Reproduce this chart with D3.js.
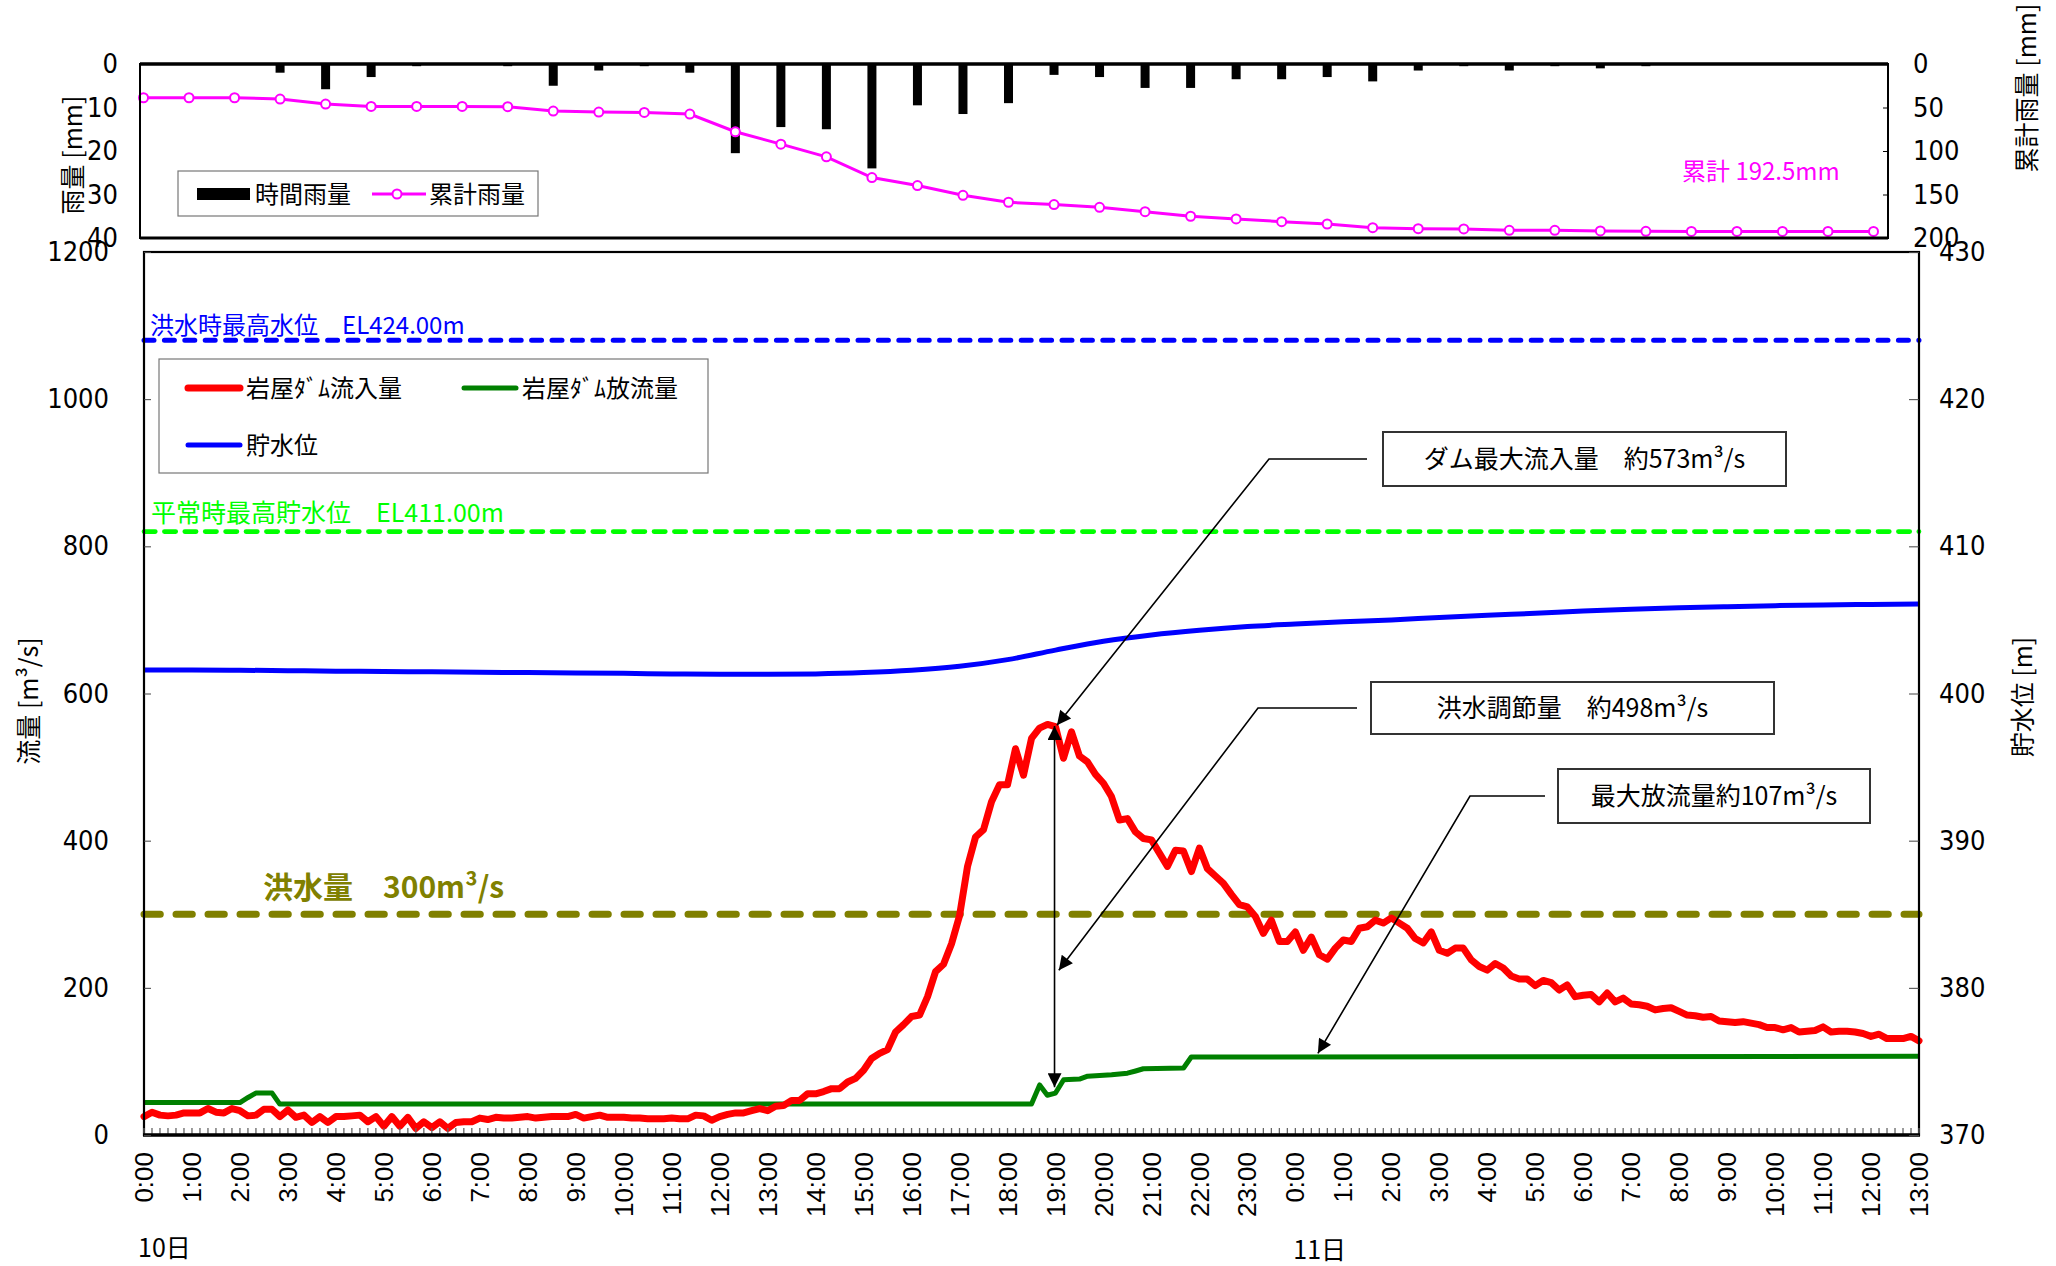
<!DOCTYPE html>
<html>
<head>
<meta charset="utf-8">
<script src="https://cdn.jsdelivr.net/npm/d3@7"></script>
<style>
  body { margin: 0; background: #fff; }
</style>
</head>
<body>
<svg id="chart" width="2056" height="1266"></svg>
<script>
// hourly rain [mm] and cumulative rain [mm], one value per hour from 10日 0:00
const rainHourly = [0, 0, 0, 2.0, 5.8, 3.0, 0.5, 0, 0.5, 5.0, 1.5, 0.5, 2.0,
  20.5, 14.5, 15.0, 24.0, 9.5, 11.5, 9.0, 2.5, 3.0, 5.5, 5.5, 3.5, 3.5, 3.0, 4.0,
  1.5, 0.5, 1.5, 0.5, 1.0, 0.5, 0, 0, 0, 0, 0]
const rainCum = [38.8, 38.8, 38.8, 40.3, 46.1, 48.8, 48.8, 48.8, 49.1, 54.1, 55.3, 55.7, 57.6,
  77.9, 92.1, 106.7, 130.5, 139.7, 150.9, 158.9, 161.6, 164.7, 169.7, 175.0, 178.1, 181.2,
  183.9, 188.1, 189.3, 189.6, 191.2, 191.2, 191.9, 192.3, 192.5, 192.5, 192.5, 192.5, 192.5]

// dam inflow [m3/s], every 10 minutes from 10日 0:00 to 11日 13:00
const inflow = [
  25, 31, 27, 26, 27, 30,
  30, 30, 36, 31, 30, 36,
  33, 26, 27, 35, 35, 25,
  34, 24, 27, 17, 25, 17,
  25, 25, 26, 27, 18, 25,
  12, 25, 12, 24, 9, 18,
  10, 18, 9, 17, 18, 18,
  23, 21, 24, 23, 23, 24,
  25, 23, 24, 25, 25, 25,
  28, 23, 25, 27, 24, 24,
  24, 23, 23, 22, 22, 22,
  23, 22, 22, 27, 26, 20,
  25, 28, 30, 30, 33, 36,
  33, 39, 40, 47, 47, 56,
  56, 59, 63, 63, 72, 77,
  88, 104, 111, 116, 140, 150,
  161, 163, 188, 222, 232, 260,
  298, 365, 405, 415, 453, 476,
  476, 525, 489, 539, 553, 558,
  555, 512, 548, 515, 507, 490,
  478, 460, 428, 430, 412, 403,
  401, 383, 365, 387, 386, 358,
  390, 362, 352, 342, 327, 313,
  310, 297, 274, 292, 263, 263,
  276, 251, 269, 245, 239, 254,
  265, 263, 281, 283, 292, 288,
  295, 288, 281, 267, 261, 276,
  251, 247, 254, 254, 238, 229,
  224, 233, 227, 216, 212, 212,
  203, 210, 207, 197, 204, 188,
  190, 191, 181, 193, 181, 186,
  178, 177, 175, 170, 172, 173,
  168, 163, 162, 160, 161, 155,
  154, 153, 154, 152, 150, 146,
  146, 143, 146, 140, 141, 142,
  147, 140, 141, 141, 140, 138,
  134, 137, 131, 131, 131, 134,
  128]

// dam outflow [m3/s], at the hours where the line bends
const outflowHour = [0, 2.0, 2.17, 2.33, 2.67, 2.83, 18.5, 18.67, 18.83, 19.0, 19.17, 19.5,
  19.67, 20.17, 20.5, 20.67, 20.83, 21.67, 21.83, 37]
const outflow = [44, 44, 51, 57, 57, 42, 42, 68, 54, 57, 75, 76,
  80, 82, 84, 87, 90, 91, 106, 107]

// reservoir level [m], hourly
const level = [401.6, 401.6, 401.58, 401.55, 401.52, 401.5, 401.47, 401.45, 401.42, 401.4,
  401.37, 401.33, 401.3, 401.3, 401.33, 401.42, 401.58, 401.85, 402.3, 402.95, 403.55,
  403.98, 404.3, 404.55, 404.72, 404.87, 405.0, 405.17, 405.32, 405.45, 405.6, 405.72,
  405.82, 405.9, 405.97, 406.02, 406.05, 406.08]

const hourLabels = ['0:00', '1:00', '2:00', '3:00', '4:00', '5:00', '6:00', '7:00', '8:00',
  '9:00', '10:00', '11:00', '12:00', '13:00', '14:00', '15:00', '16:00', '17:00', '18:00',
  '19:00', '20:00', '21:00', '22:00', '23:00', '0:00', '1:00', '2:00', '3:00', '4:00',
  '5:00', '6:00', '7:00', '8:00', '9:00', '10:00', '11:00', '12:00', '13:00']
const flowTicks = [0, 200, 400, 600, 800, 1000, 1200]
const levelTicks = [370, 380, 390, 400, 410, 420, 430]
const rainTicks = [0, 10, 20, 30, 40]
const cumTicks = [0, 50, 100, 150, 200]

const floodLevel = 424     // 洪水時最高水位
const normalLevel = 411    // 平常時最高貯水位
const floodFlow = 300      // 洪水量

const CJK = '"Noto Sans CJK JP", sans-serif'
const NUM = '"Liberation Sans Narrow", "DejaVu Sans Condensed", "Noto Sans CJK JP", sans-serif'
const LAT = '"Liberation Sans", Arial, sans-serif'
const plain = d3.format('d')

const svg = d3.select('#chart')

// scales
const x = d3.scaleLinear().domain([0, 37]).range([144, 1919])
const yL = d3.scaleLinear().domain([0, 1200]).range([1135, 252])
const yR = d3.scaleLinear().domain([370, 430]).range([1135, 252])

const xT = d3.scaleLinear().domain([0, 38]).range([143.5, 1873.5])
const yRain = d3.scaleLinear().domain([0, 40]).range([64, 238])
const yCum = d3.scaleLinear().domain([0, 200]).range([64, 238])

// arrow marker
const defs = svg.append('defs')
defs.append('marker')
  .attr('id', 'arrow')
  .attr('viewBox', '0 0 10 10')
  .attr('refX', 10).attr('refY', 5)
  .attr('markerUnits', 'userSpaceOnUse')
  .attr('markerWidth', 22).attr('markerHeight', 14)
  .attr('orient', 'auto-start-reverse')
  .append('path')
  .attr('d', 'M0,0 L10,5 L0,10 z')
  .attr('fill', '#000')

// ---------- rainfall panel ----------
const rainPanel = svg.append('g')

rainPanel.selectAll('rect.bar')
  .data(rainHourly)
  .join('rect')
  .attr('class', 'bar')
  .attr('x', (d, i) => xT(i) - 4.5)
  .attr('y', yRain(0))
  .attr('width', 9)
  .attr('height', d => yRain(d) - yRain(0))
  .attr('fill', '#000')

rainPanel.append('path')
  .datum(rainCum)
  .attr('fill', 'none')
  .attr('stroke', '#ff00ff')
  .attr('stroke-width', 3)
  .attr('d', d3.line().x((d, i) => xT(i)).y(d => yCum(d)))

rainPanel.selectAll('circle.cum')
  .data(rainCum)
  .join('circle')
  .attr('class', 'cum')
  .attr('cx', (d, i) => xT(i))
  .attr('cy', d => yCum(d))
  .attr('r', 4.5)
  .attr('fill', '#fff')
  .attr('stroke', '#ff00ff')
  .attr('stroke-width', 2)

// frame
rainPanel.append('rect')
  .attr('x', 140).attr('y', 64).attr('width', 1748).attr('height', 174)
  .attr('fill', 'none').attr('stroke', '#000').attr('stroke-width', 2)
rainPanel.append('line').attr('x1', 140).attr('x2', 1888).attr('y1', 64).attr('y2', 64)
  .attr('stroke', '#000').attr('stroke-width', 3.5)
rainPanel.append('line').attr('x1', 140).attr('x2', 1888).attr('y1', 238).attr('y2', 238)
  .attr('stroke', '#000').attr('stroke-width', 3)

rainPanel.append('g')
  .attr('transform', 'translate(140,0)')
  .call(d3.axisLeft(yRain).tickValues(rainTicks).tickFormat(plain).tickSize(0).tickPadding(22))
  .call(g => g.select('.domain').remove())
  .attr('font-family', NUM).attr('font-size', 27)

rainPanel.append('g')
  .attr('transform', 'translate(1888,0)')
  .call(d3.axisRight(yCum).tickValues(cumTicks).tickFormat(plain).tickSize(-5).tickPadding(25))
  .call(g => g.select('.domain').remove())
  .attr('font-family', NUM).attr('font-size', 27)

rainPanel.append('text')
  .attr('transform', 'translate(82,155) rotate(-90)')
  .attr('text-anchor', 'middle')
  .attr('font-family', CJK).attr('font-size', 25)
  .text('雨量 [mm]')

rainPanel.append('text')
  .attr('transform', 'translate(2036,88) rotate(-90)')
  .attr('text-anchor', 'middle')
  .attr('font-family', CJK).attr('font-size', 25)
  .text('累計雨量 [mm]')

rainPanel.append('text')
  .attr('x', 1682).attr('y', 180)
  .attr('font-family', CJK).attr('font-size', 24)
  .attr('fill', '#ff00ff')
  .text('累計 192.5mm')

// rainfall legend
const lgT = rainPanel.append('g')
lgT.append('rect').attr('x', 178).attr('y', 171).attr('width', 360).attr('height', 45)
  .attr('fill', '#fff').attr('stroke', '#777').attr('stroke-width', 1.2)
lgT.append('rect').attr('x', 197).attr('y', 188).attr('width', 53).attr('height', 12).attr('fill', '#000')
lgT.append('text').attr('x', 255).attr('y', 203)
  .attr('font-family', CJK).attr('font-size', 24).text('時間雨量')
lgT.append('line').attr('x1', 372).attr('x2', 426).attr('y1', 194).attr('y2', 194)
  .attr('stroke', '#ff00ff').attr('stroke-width', 3)
lgT.append('circle').attr('cx', 397).attr('cy', 194).attr('r', 4.5)
  .attr('fill', '#fff').attr('stroke', '#ff00ff').attr('stroke-width', 2)
lgT.append('text').attr('x', 429).attr('y', 203)
  .attr('font-family', CJK).attr('font-size', 24).text('累計雨量')

// ---------- flow panel ----------
const main = svg.append('g')

// reference lines
main.append('line')
  .attr('x1', x(0)).attr('x2', x(37))
  .attr('y1', yR(floodLevel)).attr('y2', yR(floodLevel))
  .attr('stroke', '#0000ff').attr('stroke-width', 5)
  .attr('stroke-linecap', 'round').attr('stroke-dasharray', '10,10.4')
main.append('line')
  .attr('x1', x(0)).attr('x2', x(37))
  .attr('y1', yR(normalLevel)).attr('y2', yR(normalLevel))
  .attr('stroke', '#00ff00').attr('stroke-width', 4.7)
  .attr('stroke-linecap', 'round').attr('stroke-dasharray', '11.3,9.1')
main.append('line')
  .attr('x1', x(0)).attr('x2', x(37))
  .attr('y1', yL(floodFlow)).attr('y2', yL(floodFlow))
  .attr('stroke', '#808000').attr('stroke-width', 7)
  .attr('stroke-linecap', 'round').attr('stroke-dasharray', '16.3,15.7')

main.append('text')
  .attr('x', 150).attr('y', yR(floodLevel) - 6)
  .attr('font-family', CJK).attr('font-size', 24).attr('fill', '#0000ff')
  .text('洪水時最高水位　EL424.00m')
main.append('text')
  .attr('x', 151).attr('y', yR(normalLevel) - 10)
  .attr('font-family', CJK).attr('font-size', 25).attr('fill', '#00ff00')
  .text('平常時最高貯水位　EL411.00m')
main.append('text')
  .attr('x', 263).attr('y', yL(floodFlow) - 16)
  .attr('font-family', CJK).attr('font-size', 30).attr('font-weight', 'bold').attr('fill', '#808000')
  .text('洪水量　300m³/s')

// reservoir level
main.append('path')
  .datum(level)
  .attr('fill', 'none')
  .attr('stroke', '#0000ff')
  .attr('stroke-width', 5)
  .attr('d', d3.line().x((d, i) => x(i)).y(d => yR(d)).curve(d3.curveMonotoneX))

// outflow
main.append('path')
  .datum(outflow)
  .attr('fill', 'none')
  .attr('stroke', '#008000')
  .attr('stroke-width', 5)
  .attr('stroke-linejoin', 'round')
  .attr('d', d3.line().x((d, i) => x(outflowHour[i])).y(d => yL(d)))

// inflow
main.append('path')
  .datum(inflow)
  .attr('fill', 'none')
  .attr('stroke', '#ff0000')
  .attr('stroke-width', 7)
  .attr('stroke-linejoin', 'round')
  .attr('stroke-linecap', 'round')
  .attr('d', d3.line().x((d, i) => x(i / 6)).y(d => yL(d)))

// frame and axes
main.append('rect')
  .attr('x', x(0)).attr('y', yL(1200))
  .attr('width', x(37) - x(0)).attr('height', yL(0) - yL(1200))
  .attr('fill', 'none').attr('stroke', '#000').attr('stroke-width', 2.2)

// 10-minute ticks along the time axis
main.append('g')
  .selectAll('line')
  .data(inflow)
  .join('line')
  .attr('x1', (d, i) => x(i / 6)).attr('x2', (d, i) => x(i / 6))
  .attr('y1', yL(0)).attr('y2', yL(0) - 7)
  .attr('stroke', '#666').attr('stroke-width', 1.3)

main.append('line')
  .attr('x1', x(0) - 1).attr('x2', x(37) + 1)
  .attr('y1', yL(0)).attr('y2', yL(0))
  .attr('stroke', '#000').attr('stroke-width', 3.5)

main.append('g')
  .attr('transform', `translate(${x(0)},0)`)
  .call(d3.axisLeft(yL).tickValues(flowTicks).tickFormat(plain).tickSize(-7).tickPadding(35))
  .call(g => g.select('.domain').remove())
  .call(g => g.selectAll('.tick line').attr('stroke', '#444'))
  .attr('font-family', NUM).attr('font-size', 27)

main.append('g')
  .attr('transform', `translate(${x(37)},0)`)
  .call(d3.axisRight(yR).tickValues(levelTicks).tickFormat(plain).tickSize(-10).tickPadding(20))
  .call(g => g.select('.domain').remove())
  .call(g => g.selectAll('.tick line').attr('stroke', '#444'))
  .attr('font-family', NUM).attr('font-size', 27)

main.append('g')
  .selectAll('text')
  .data(hourLabels)
  .join('text')
  .attr('transform', (d, i) => `translate(${x(i)},1152) rotate(-90)`)
  .attr('text-anchor', 'end')
  .attr('dy', '0.35em')
  .attr('font-family', LAT).attr('font-size', 26)
  .text(d => d)

main.append('text').attr('x', 138).attr('y', 1257)
  .attr('font-family', CJK).attr('font-size', 25).text('10日')
main.append('text').attr('x', x(24) - 2).attr('y', 1259)
  .attr('font-family', CJK).attr('font-size', 25).text('11日')

main.append('text')
  .attr('transform', 'translate(38,701) rotate(-90)')
  .attr('text-anchor', 'middle')
  .attr('font-family', CJK).attr('font-size', 25)
  .text('流量 [m³/s]')
main.append('text')
  .attr('transform', 'translate(2032,697) rotate(-90)')
  .attr('text-anchor', 'middle')
  .attr('font-family', CJK).attr('font-size', 25)
  .text('貯水位 [m]')

// flow legend
const lgM = main.append('g')
lgM.append('rect').attr('x', 159).attr('y', 359).attr('width', 549).attr('height', 114)
  .attr('fill', '#fff').attr('stroke', '#777').attr('stroke-width', 1.2)
const legendItems = [
  { label: '岩屋ﾀﾞﾑ流入量', color: '#ff0000', w: 7, lx: 188, ly: 388 },
  { label: '岩屋ﾀﾞﾑ放流量', color: '#008000', w: 5, lx: 464, ly: 388 },
  { label: '貯水位', color: '#0000ff', w: 5, lx: 188, ly: 445 }
]
legendItems.forEach(d => {
  lgM.append('line')
    .attr('x1', d.lx).attr('x2', d.lx + 52).attr('y1', d.ly).attr('y2', d.ly)
    .attr('stroke', d.color).attr('stroke-width', d.w).attr('stroke-linecap', 'round')
  lgM.append('text')
    .attr('x', d.lx + 58).attr('y', d.ly + 9)
    .attr('font-family', CJK).attr('font-size', 24)
    .text(d.label)
})

// ---------- annotations ----------
const notes = [
  { text: 'ダム最大流入量　約573m³/s', bx: 1383, by: 432, bw: 403, bh: 54, lineX: 1367, bendX: 1269, tipH: 19.03, tipV: 557 },
  { text: '洪水調節量　約498m³/s', bx: 1371, by: 682, bw: 403, bh: 52, lineX: 1357, bendX: 1258, tipH: 19.07, tipV: 224 },
  { text: '最大放流量約107m³/s', bx: 1558, by: 769, bw: 312, bh: 54, lineX: 1545, bendX: 1470, tipH: 24.47, tipV: 111 }
]
const ann = svg.append('g')
notes.forEach(n => {
  const ly = n.by + n.bh / 2
  ann.append('path')
    .attr('d', `M${n.lineX},${ly} H${n.bendX} L${x(n.tipH)},${yL(n.tipV)}`)
    .attr('fill', 'none').attr('stroke', '#000').attr('stroke-width', 1.6)
    .attr('marker-end', 'url(#arrow)')
  ann.append('rect')
    .attr('x', n.bx).attr('y', n.by).attr('width', n.bw).attr('height', n.bh)
    .attr('fill', '#fff').attr('stroke', '#333').attr('stroke-width', 2)
  ann.append('text')
    .attr('x', n.bx + n.bw / 2).attr('y', ly + 9)
    .attr('text-anchor', 'middle')
    .attr('font-family', CJK).attr('font-size', 25)
    .text(n.text)
})

// flood control amount: peak inflow down to outflow at the same time
ann.append('line')
  .attr('x1', x(18.98)).attr('x2', x(18.98))
  .attr('y1', yL(556)).attr('y2', yL(65))
  .attr('stroke', '#000').attr('stroke-width', 1.6)
  .attr('marker-start', 'url(#arrow)')
  .attr('marker-end', 'url(#arrow)')
</script>
</body>
</html>
